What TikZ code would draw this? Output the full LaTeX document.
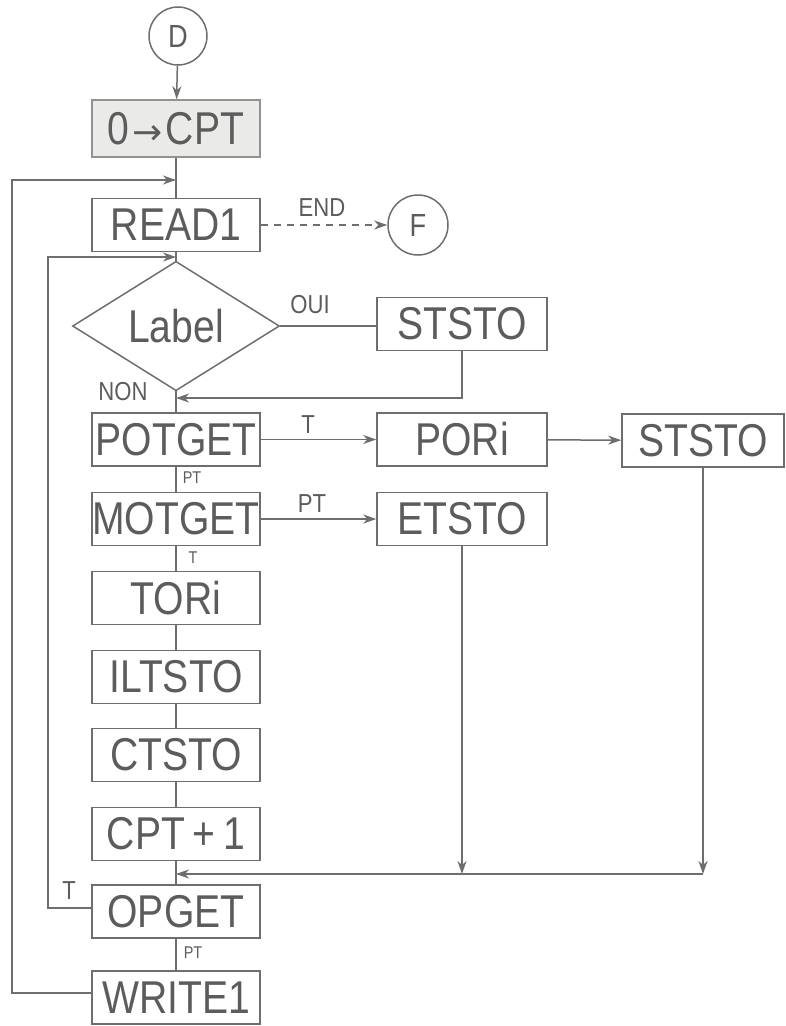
\documentclass[tikz,border=0pt]{standalone}
\usepackage{fontspec}
\setmainfont{Liberation Sans}[FakeStretch=0.85]
\newfontfamily\arrowfont{DejaVu Sans}
\usepackage{tikz}
\usetikzlibrary{positioning,arrows.meta,shapes.geometric,calc}
\definecolor{inkclr}{RGB}{110,110,110}
\definecolor{txtclr}{RGB}{92,92,92}
\definecolor{initclr}{RGB}{234,234,232}
\tikzset{
    opbox/.style={rectangle,draw=inkclr,line width=1.5pt,minimum width=168pt,minimum height=53pt,inner sep=0pt,text=txtclr,font=\fontsize{46}{50}\selectfont},
    opboxr/.style={opbox,minimum width=170pt},
    testbox/.style={diamond,draw=inkclr,line width=1.5pt,minimum width=207pt,minimum height=122pt,inner sep=0pt,text=txtclr,font=\fontsize{46}{50}\selectfont},
    termnode/.style={circle,draw=inkclr,line width=1.5pt,minimum size=58pt,inner sep=0pt,text=txtclr,font=\fontsize{32}{36}\selectfont},
    flowline/.style={-{Stealth[length=13pt,width=9pt,inset=4pt]},draw=inkclr,line width=1.5pt},
    plainline/.style={draw=inkclr,line width=1.5pt},
    lbltag/.style={text=txtclr,inner sep=0pt,font=\fontsize{26}{28}\selectfont},
    smalltag/.style={lbltag,font=\fontsize{17}{19}\selectfont},
}

\begin{document}
\begin{tikzpicture}[x=1pt,y=-1pt]
\useasboundingbox (0,0) rectangle (786,1026);
% main column
\node[termnode] (D)      at (178,36)    {D};
\node[opbox,fill=initclr,draw=inkclr!75,minimum height=57pt] (init) at (176,128.5) {0\kern3pt{\arrowfont\fontsize{36}{40}\selectfont →}\kern3pt CPT};
\node[opbox]    (read)   at (176,225)   {READ1};
\node[termnode,minimum size=60pt] (F) at (418,225) {F};
\node[testbox]  (lbl)    at (176,326)   {Label};
\node[opboxr]   (ststoA) at (462,324)   {STSTO};
\node[opbox]    (potget) at (176,439.5) {POTGET};
\node[opboxr]   (pori)   at (462,439.5) {PORi};
\node[opbox,minimum width=162pt] (ststoB) at (703,440.5) {STSTO};
\node[opbox]    (motget) at (176,519)   {MOTGET};
\node[opboxr]   (etsto)  at (462,519)   {ETSTO};
\node[opbox]    (tori)   at (176,598)   {TORi};
\node[opbox]    (iltsto) at (176,677)   {ILTSTO};
\node[opbox]    (ctsto)  at (176,755)   {CTSTO};
\node[opbox]    (cptinc) at (176,834)   {CPT\,+\,1};
\node[opbox]    (opget)  at (176,911.5) {OPGET};
\node[opbox]    (write)  at (176,997.5) {WRITE1};

\coordinate (inA)    at (176,180);
\coordinate (inB)    at (176,257);
\coordinate (backA)  at (176,398);
\coordinate (mergeL) at (176,874);
\coordinate (mergeR) at (703,874);
\coordinate (outerx) at (12,0);
\coordinate (innerx) at (48,0);

\draw[flowline]  (D) -- (init);
\draw[plainline] (init) -- (read);
\draw[flowline,dashed,dash pattern=on 7pt off 6pt] (read) -- (F);
\draw[plainline] (read) -- (lbl);
\draw[plainline] (lbl.east) -- (lbl.east -| ststoA.west);
\draw[flowline]  (ststoA.south) |- (backA);
\draw[plainline] (lbl) -- (potget);
\draw[flowline]  (potget) -- (pori);
\draw[flowline]  (pori) -- (ststoB);
\draw[plainline] (potget) -- (motget);
\draw[flowline]  (motget) -- (etsto);
\draw[plainline] (motget) -- (tori);
\draw[plainline] (tori) -- (iltsto);
\draw[plainline] (iltsto) -- (ctsto);
\draw[plainline] (ctsto) -- (cptinc);
\draw[plainline] (cptinc) -- (opget);
\draw[plainline] (opget) -- (write);
% joins and loops
\draw[flowline]  (etsto.south) -- (etsto.south |- mergeR);
\draw[flowline]  (ststoB.south) -- (mergeR);
\draw[flowline]  (mergeR) -- (mergeL);
\draw[flowline]  ([yshift=3.5pt]opget.west) -- ([yshift=3.5pt]opget.west -| innerx) |- (inB);
\draw[flowline]  ([yshift=4.5pt]write.west) -- ([yshift=4.5pt]write.west -| outerx) |- (inA);

\node[lbltag]   (tEnd) at (322,208) {END};
\node[lbltag]   (tOui) at (310,305) {OUI};
\node[lbltag]   (tNon) at (123,392) {NON};
\node[lbltag]   (tT1)  at (308,425) {T};
\node[lbltag]   (tPT1) at (312,504) {PT};
\node[lbltag]   (tT2)  at (69,891)  {T};
\node[smalltag] (tPT2) at (192,478) {PT};
\node[smalltag] (tT3)  at (193,558) {T};
\node[smalltag] (tPT3) at (193,953) {PT};
\end{tikzpicture}
\end{document}
